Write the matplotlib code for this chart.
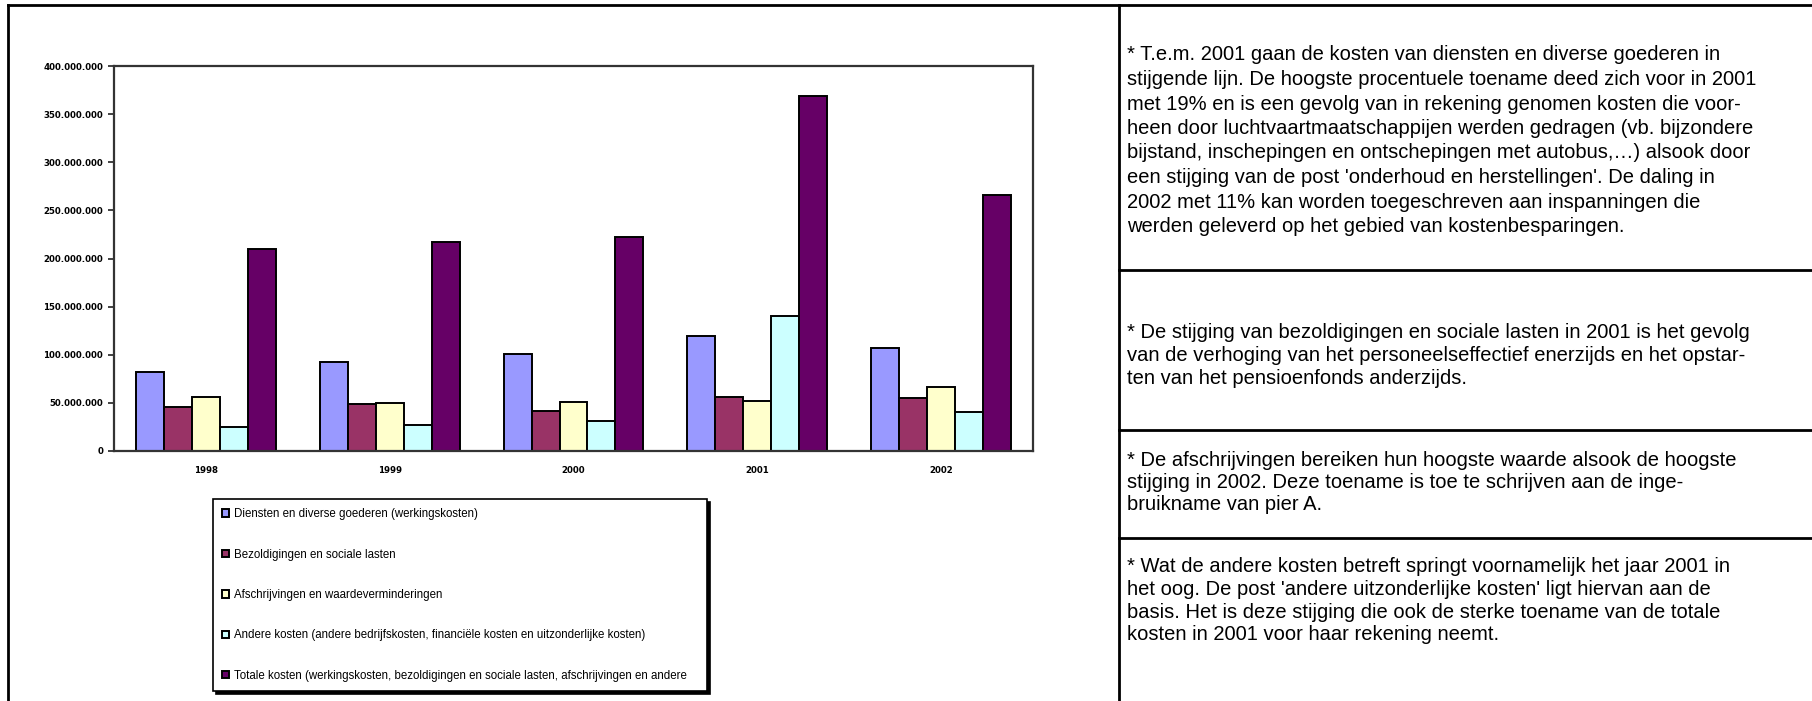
import matplotlib
matplotlib.use("Agg")
import matplotlib.pyplot as plt
import numpy as np

# kosten per jaar (euro)
jaren = ["1998", "1999", "2000", "2001", "2002"]
diensten = [82.0e6, 92.5e6, 100.4e6, 119.5e6, 106.7e6]
bezoldigingen = [45.7e6, 48.5e6, 41.9e6, 56.4e6, 54.7e6]
afschrijvingen = [56.0e6, 50.0e6, 50.6e6, 52.3e6, 66.8e6]
andere = [25.0e6, 27.0e6, 31.5e6, 140.0e6, 40.2e6]
totaal = [210.0e6, 217.5e6, 222.0e6, 369.0e6, 266.0e6]

reeksen = [diensten, bezoldigingen, afschrijvingen, andere, totaal]
labels = [
    "Diensten en diverse goederen (werkingskosten)",
    "Bezoldigingen en sociale lasten",
    "Afschrijvingen en waardeverminderingen",
    "Andere kosten (andere bedrijfskosten, financiële kosten en uitzonderlijke kosten)",
    "Totale kosten (werkingskosten, bezoldigingen en sociale lasten, afschrijvingen en andere",
]
kleuren = ["#9999FF", "#993366", "#FFFFCC", "#CCFFFF", "#660066"]
y_ticks = np.arange(0, 400e6 + 1, 50e6)

toelichting = [
    ["* T.e.m. 2001 gaan de kosten van diensten en diverse goederen in",
     "stijgende lijn. De hoogste procentuele toename deed zich voor in 2001",
     "met 19% en is een gevolg van in rekening genomen kosten die voor-",
     "heen door luchtvaartmaatschappijen werden gedragen (vb. bijzondere",
     "bijstand, inschepingen en ontschepingen met autobus,…) alsook door",
     "een stijging van de post 'onderhoud en herstellingen'. De daling in",
     "2002 met 11% kan worden toegeschreven aan inspanningen die",
     "werden geleverd op het gebied van kostenbesparingen."],
    ["* De stijging van bezoldigingen en sociale lasten in 2001 is het gevolg",
     "van de verhoging van het personeelseffectief enerzijds en het opstar-",
     "ten van het pensioenfonds anderzijds."],
    ["* De afschrijvingen bereiken hun hoogste waarde alsook de hoogste",
     "stijging in 2002. Deze toename is toe te schrijven aan de inge-",
     "bruikname van pier A."],
    ["* Wat de andere kosten betreft springt voornamelijk het jaar 2001 in",
     "het oog. De post 'andere uitzonderlijke kosten' ligt hiervan aan de",
     "basis. Het is deze stijging die ook de sterke toename van de totale",
     "kosten in 2001 voor haar rekening neemt."],
]

W, H = 1812, 701
fig = plt.figure(figsize=(W / 100, H / 100), dpi=100)

# tabelrand en tekstkolom, in pixels
tab = fig.add_axes([0, 0, 1, 1])
tab.set_xlim(0, W)
tab.set_ylim(H, 0)
tab.axis("off")
tab.plot([8, W], [5, 5], color="black", lw=2)
tab.plot([8, 8], [5, H], color="black", lw=2)
tab.plot([1119, 1119], [5, H], color="black", lw=2)
for y in [270, 430, 538]:
    tab.plot([1119, W], [y, y], color="black", lw=2)

# (eerste regel, regelafstand) per cel
posities = [(55, 24.5), (333, 22.5), (461, 22), (567, 22.5)]
for regels, (y0, dy) in zip(toelichting, posities):
    for i, regel in enumerate(regels):
        tab.text(1127, y0 + i * dy, regel, fontsize=14.5, family="Liberation Sans",
                 va="center", ha="left", color="black")

# staafdiagram
ax = fig.add_axes([114 / W, 1 - 451 / H, (1033 - 114) / W, (451 - 66) / H])
x = np.arange(len(jaren))
bw = 0.152
handles = []
for i, (vals, kleur, lab) in enumerate(zip(reeksen, kleuren, labels)):
    b = ax.bar(x + (i - 2) * bw, vals, bw, color=kleur, edgecolor="black", lw=1.4, label=lab)
    handles.append(b)

ax.set_xlim(-0.5, len(jaren) - 0.5)
ax.set_ylim(0, 400e6)
ax.set_yticks(y_ticks)
ax.set_yticklabels([f"{v:,.0f}".replace(",", ".") for v in y_ticks])
ax.set_xticks(x)
ax.set_xticklabels(jaren)
for lab in ax.get_xticklabels() + ax.get_yticklabels():
    lab.set_fontsize(6.2)
    lab.set_fontweight("bold")
    lab.set_family("DejaVu Sans")
ax.tick_params(axis="y", direction="out", length=4.3, width=1.3, pad=3.5, color="#333333")
ax.tick_params(axis="x", length=0, pad=11)
for s in ax.spines.values():
    s.set_color("#333333")
    s.set_linewidth(1.6)

leg = fig.legend(handles, labels, loc="upper left",
                 bbox_to_anchor=(213 / W, 1 - 499 / H - 0.01, (707 - 213) / W, 0.01),
                 mode="expand", borderaxespad=0, fancybox=False,
                 shadow={"color": "black", "alpha": 1},
                 prop={"family": "Liberation Sans", "size": 8.3},
                 handlelength=0.6, handleheight=0.6, handletextpad=0.45,
                 labelspacing=2.46, borderpad=0.8, framealpha=1)
leg.get_frame().set_edgecolor("black")
leg.get_frame().set_linewidth(1.2)

fig.savefig("out.png", dpi=100)
